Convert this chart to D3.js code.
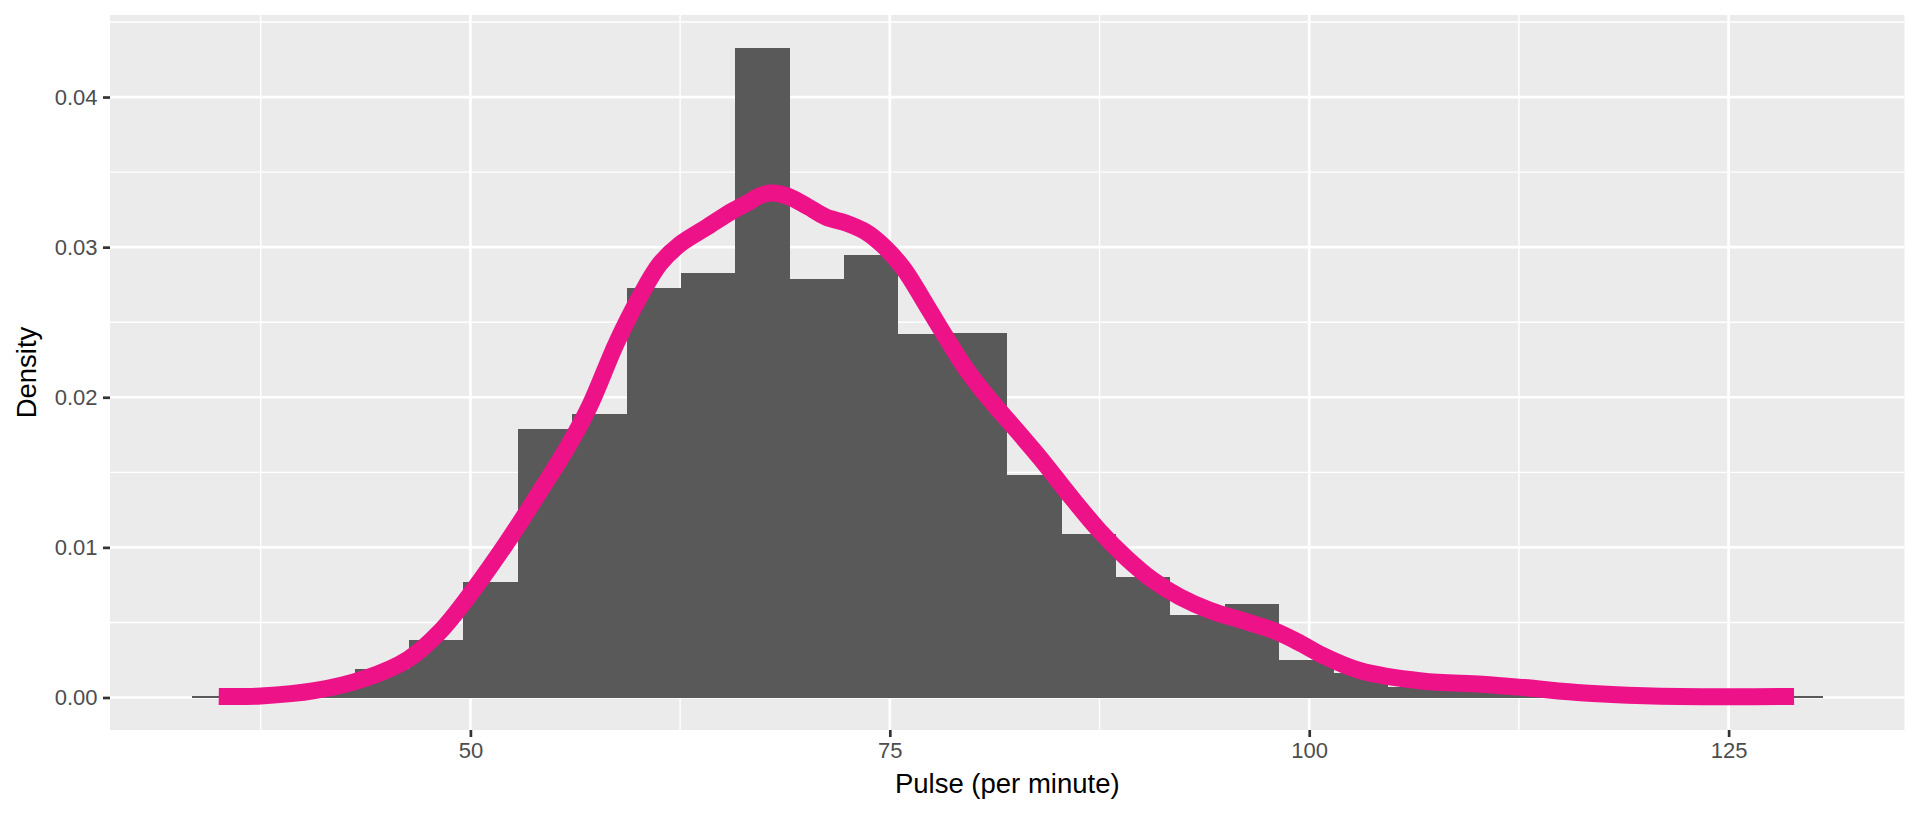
<!DOCTYPE html>
<html>
<head>
<meta charset="utf-8">
<script src="https://cdn.jsdelivr.net/npm/d3@7"></script>
<style>
  body { margin: 0; background: #fff; }
  svg { display: block; font-family: "Liberation Sans", Arial, sans-serif; }
</style>
</head>
<body>
<script>
// histogram: 30 bins, first bin starts at binStart
const binStart = 33.379;
const binWidth = 3.2414;
const binDensity = [
  0.00007, 0.0001, 0.0005, 0.0019, 0.0038, 0.00767, 0.0179, 0.0189, 0.0273, 0.0283,
  0.0433, 0.0279, 0.0295, 0.0242, 0.0243, 0.0148, 0.0109, 0.0080, 0.0055, 0.0062,
  0.0025, 0.0016, 0.0007, 0.0005, 0.0005, 0.0003, 0.0001, 0.0001, 0.0001, 0.00007
];

// density curve
const densX = [35.0, 37.5, 40.7, 43.8, 46.3, 48.2, 50.2, 52.1, 54.3, 55.7,
  57.1, 58.7, 60.1, 61.3, 62.5, 64.05, 65.6, 66.6, 67.2, 67.9,
  68.9, 70.1, 71.2, 72.4, 73.6, 74.6, 75.8, 77.2, 78.4, 79.6,
  81.0, 82.4, 84.0, 85.7, 87.5, 89.1, 90.7, 92.3, 94.1, 96.1,
  97.9, 99.5, 100.8, 103.0, 106.7, 110.3, 112.8, 116.4, 120.0, 124.9, 128.9];
const densY = [0.00007, 0.0001, 0.00045, 0.0013, 0.00256, 0.0044, 0.0072, 0.0102, 0.0140, 0.0165,
  0.0194, 0.0236, 0.0267, 0.0289, 0.0302, 0.0313, 0.0324, 0.0330, 0.0334, 0.0336,
  0.0334, 0.0327, 0.0320, 0.0316, 0.0310, 0.0301, 0.0286, 0.0261, 0.0239, 0.0218,
  0.0198, 0.0180, 0.0159, 0.0135, 0.0111, 0.0093, 0.0078, 0.0067, 0.0058, 0.0051,
  0.00445, 0.0036, 0.0028, 0.0018, 0.0011, 0.00088, 0.00066, 0.0003, 0.00012, 0.00005, 0.00007];

const xTicks = [50, 75, 100, 125];
const yTicks = [0, 0.01, 0.02, 0.03, 0.04];
const xTitle = "Pulse (per minute)";
const yTitle = "Density";

const W = 1920, H = 816;
const panel = { left: 110, right: 1904.5, top: 15, bottom: 730 };

const svg = d3.select("body").append("svg")
  .attr("width", W)
  .attr("height", H);

// scales with ggplot's 5% expansion
const xLo = binStart, xHi = binStart + binDensity.length * binWidth;
const xPad = (xHi - xLo) * 0.05;
const x = d3.scaleLinear()
  .domain([xLo - xPad, xHi + xPad])
  .range([panel.left, panel.right]);

const yMax = d3.max(binDensity);
const y = d3.scaleLinear()
  .domain([-yMax * 0.05, yMax * 1.05])
  .range([panel.bottom, panel.top]);

// panel background
svg.append("rect")
  .attr("x", panel.left)
  .attr("y", panel.top)
  .attr("width", panel.right - panel.left)
  .attr("height", panel.bottom - panel.top)
  .attr("fill", "#EBEBEB");

// minor grid = midpoints between majors
function minors(ticks, dom) {
  const step = ticks[1] - ticks[0];
  const out = [];
  for (let v = ticks[0] - step / 2; v <= dom[1]; v += step) {
    if (v >= dom[0]) out.push(v);
  }
  return out;
}

const grid = svg.append("g");
grid.selectAll(".xminor")
  .data(minors(xTicks, x.domain()))
  .enter().append("line")
  .attr("x1", d => x(d)).attr("x2", d => x(d))
  .attr("y1", panel.top).attr("y2", panel.bottom)
  .attr("stroke", "#fff").attr("stroke-width", 1.4);
grid.selectAll(".yminor")
  .data(minors(yTicks, y.domain()))
  .enter().append("line")
  .attr("x1", panel.left).attr("x2", panel.right)
  .attr("y1", d => y(d)).attr("y2", d => y(d))
  .attr("stroke", "#fff").attr("stroke-width", 1.4);
grid.selectAll(".xmajor")
  .data(xTicks)
  .enter().append("line")
  .attr("x1", d => x(d)).attr("x2", d => x(d))
  .attr("y1", panel.top).attr("y2", panel.bottom)
  .attr("stroke", "#fff").attr("stroke-width", 2.7);
grid.selectAll(".ymajor")
  .data(yTicks)
  .enter().append("line")
  .attr("x1", panel.left).attr("x2", panel.right)
  .attr("y1", d => y(d)).attr("y2", d => y(d))
  .attr("stroke", "#fff").attr("stroke-width", 2.7);

// histogram bars
svg.append("g").selectAll("rect")
  .data(binDensity)
  .enter().append("rect")
  .attr("x", (d, i) => x(binStart + i * binWidth))
  .attr("width", (d, i) => x(binStart + (i + 1) * binWidth) - x(binStart + i * binWidth))
  .attr("y", d => y(d))
  .attr("height", d => y(0) - y(d))
  .attr("fill", "#595959")
  .attr("shape-rendering", "crispEdges");

// density line
const line = d3.line()
  .x(d => x(d[0]))
  .y(d => y(d[1]))
  .curve(d3.curveCatmullRom.alpha(0.5));

svg.append("path")
  .datum(densX.map((v, i) => [v, densY[i]]))
  .attr("d", line)
  .attr("fill", "none")
  .attr("stroke", "#EE1289")
  .attr("stroke-width", 17)
  .attr("stroke-linecap", "butt")
  .attr("stroke-linejoin", "round");

// axes
const xAxis = svg.append("g")
  .attr("transform", `translate(0,${panel.bottom})`)
  .call(d3.axisBottom(x).tickValues(xTicks).tickSize(7).tickPadding(5.5).tickFormat(d3.format("d")));
const yAxis = svg.append("g")
  .attr("transform", `translate(${panel.left},0)`)
  .call(d3.axisLeft(y).tickValues(yTicks).tickSize(7).tickPadding(5.5).tickFormat(d3.format(".2f")));

[xAxis, yAxis].forEach(ax => {
  ax.select(".domain").remove();
  ax.selectAll(".tick line").attr("stroke", "#333333").attr("stroke-width", 2.7);
  ax.selectAll(".tick text")
    .attr("fill", "#4D4D4D")
    .style("font-size", "22px")
    .style("font-family", "'Liberation Sans', Arial, sans-serif");
});

// titles
svg.append("text")
  .attr("x", (panel.left + panel.right) / 2)
  .attr("y", 793)
  .attr("text-anchor", "middle")
  .style("font-size", "27.5px")
  .attr("fill", "#000")
  .text(xTitle);

svg.append("text")
  .attr("transform", `translate(36,${(panel.top + panel.bottom) / 2}) rotate(-90)`)
  .attr("text-anchor", "middle")
  .style("font-size", "27.5px")
  .attr("fill", "#000")
  .text(yTitle);
</script>
</body>
</html>
